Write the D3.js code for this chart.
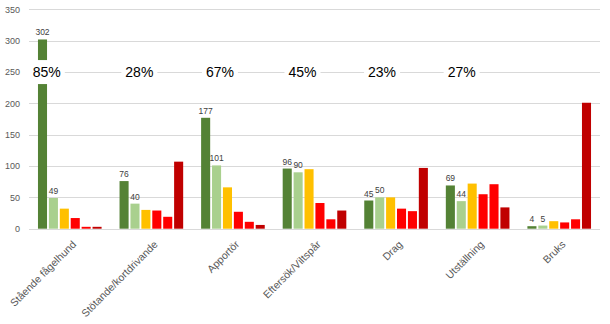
<!DOCTYPE html>
<html>
<head>
<meta charset="utf-8">
<script src="https://cdn.jsdelivr.net/npm/d3@7"></script>
<style>
  html, body { margin: 0; padding: 0; background: #fff; }
  svg { display: block; font-family: "Liberation Sans", Arial, sans-serif; }
</style>
</head>
<body>
<svg id="chart" width="610" height="324"></svg>
<script>
// Categories (dog activity types)
const categories = ["Stående fågelhund", "Stötande/kortdrivande", "Apportör", "Eftersök/Viltspår", "Drag", "Utställning", "Bruks"];

// Six series per category, from best (dark green) to worst (dark red)
const series1 = [302, 76, 177, 96, 45, 69, 4];
const series2 = [49, 40, 101, 90, 50, 44, 5];
const series3 = [32, 30, 66, 95, 50, 72, 12];
const series4 = [17, 29, 27, 41, 32, 55, 10];
const series5 = [3, 19, 11, 15, 28, 71, 15];
const series6 = [3, 107, 6, 29, 97, 34, 201];

// Share printed above each category (Bruks has none)
const shares = ["85%", "28%", "67%", "45%", "23%", "27%", null];

// Y axis ticks
const yTicks = [0, 50, 100, 150, 200, 250, 300, 350];

// Only the first two series carry value labels
const labelledSeries = [0, 1];

const seriesKeys = ["s1", "s2", "s3", "s4", "s5", "s6"];
const seriesValues = [series1, series2, series3, series4, series5, series6];
const colors = ["#548235", "#a9d08e", "#ffc000", "#ff0000", "#ff0000", "#c00000"];

const rows = categories.map((c, i) => ({
  cat: c,
  vals: seriesValues.map((s, k) => ({ key: seriesKeys[k], k, value: s[i] }))
}));

const svg = d3.select("#chart");
const plot = { left: 29, right: 600, top: 9.4, bottom: 228.7 };

const x0 = d3.scaleBand().domain(categories).range([plot.left, plot.right])
  .paddingInner(0.22).paddingOuter(0.11);
const x1 = d3.scaleBand().domain(seriesKeys).range([0, x0.bandwidth()])
  .paddingInner(0.17).paddingOuter(0);
const y = d3.scaleLinear().domain([0, 350]).range([plot.bottom, plot.top]);

// Gridlines
svg.append("g").selectAll("line").data(yTicks).join("line")
  .attr("x1", plot.left).attr("x2", plot.right)
  .attr("y1", d => Math.round(y(d)) + 0.5).attr("y2", d => Math.round(y(d)) + 0.5)
  .attr("stroke", "#d9d9d9").attr("stroke-width", 1);

// Y axis labels
const yAxis = d3.axisLeft(y).tickValues(yTicks).tickSize(0).tickPadding(0);
const gy = svg.append("g").attr("transform", `translate(20,0)`).call(yAxis);
gy.select(".domain").remove();
gy.selectAll("text").attr("font-size", 9).attr("fill", "#595959")
  .attr("font-family", "'Liberation Sans', Arial, sans-serif");

// Bars
const groups = svg.append("g").selectAll("g").data(rows).join("g")
  .attr("transform", d => `translate(${x0(d.cat)},0)`);

groups.selectAll("rect").data(d => d.vals).join("rect")
  .attr("x", d => x1(d.key))
  .attr("width", x1.bandwidth())
  .attr("y", d => y(d.value))
  .attr("height", d => y(0) - y(d.value))
  .attr("fill", d => colors[d.k]);

// Value labels for the green series
groups.selectAll("text.val").data(d => d.vals.filter(v => labelledSeries.includes(v.k))).join("text")
  .attr("class", "val")
  .attr("x", d => x1(d.key) + x1.bandwidth() / 2)
  .attr("y", d => y(d.value) - 4)
  .attr("text-anchor", "middle")
  .attr("font-size", 8.5)
  .attr("fill", "#404040")
  .text(d => d.value);

// Share labels on a white box, sitting on the 250 gridline
const shareShift = [-23, -12, -13, -12, -14, -16, 0];
const shareG = svg.append("g");
rows.forEach((r, i) => {
  if (!shares[i]) return;
  const cx = x0(r.cat) + x0.bandwidth() / 2 + shareShift[i];
  const cy = y(250);
  const g = shareG.append("g");
  const t = g.append("text")
    .attr("x", cx).attr("y", cy).attr("dy", "0.36em")
    .attr("text-anchor", "middle")
    .attr("font-size", 14).attr("fill", "#000")
    .text(shares[i]);
  const w = t.node().getComputedTextLength();
  g.insert("rect", "text")
    .attr("x", cx - w / 2 - 4).attr("y", cy - 12)
    .attr("width", w + 8).attr("height", 24)
    .attr("fill", "#fff");
});

// Category labels, rotated
svg.append("g").selectAll("text").data(categories).join("text")
  .attr("transform", d => `translate(${x0(d) + x0.bandwidth() / 2 + 7},245) rotate(-45)`)
  .attr("text-anchor", "end")
  .attr("font-size", 10.5)
  .attr("fill", "#595959")
  .text(d => d);
</script>
</body>
</html>
